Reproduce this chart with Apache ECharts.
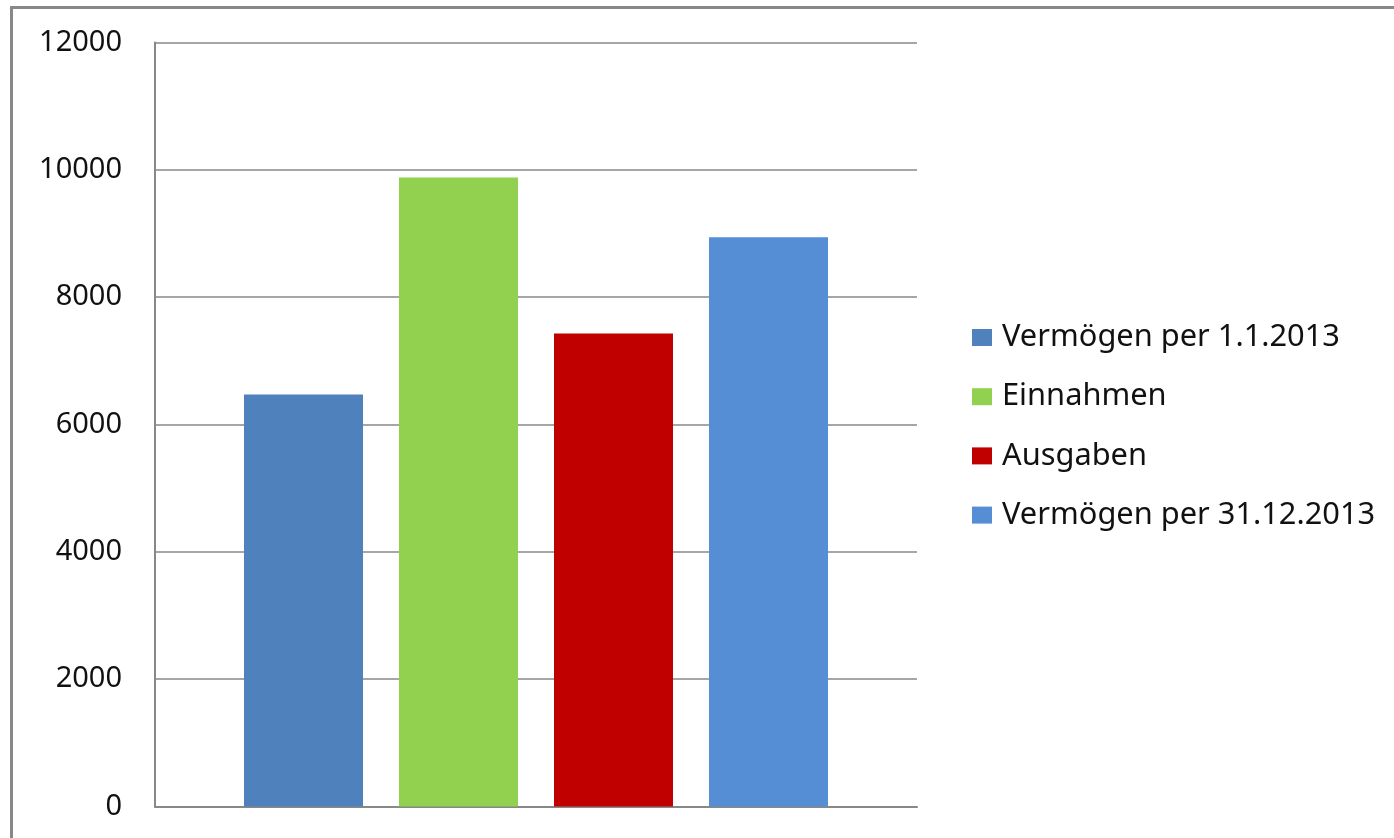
<!DOCTYPE html>
<html>
<head>
<meta charset="utf-8">
<script src="https://cdn.jsdelivr.net/npm/echarts@6/dist/echarts.min.js"></script>
<style>html,body{margin:0;padding:0;background:#fff}#c{width:1394px;height:838px}</style>
</head>
<body>
<div id="c"></div>
<script>
const categories = [''];
const seriesNames = ['Vermögen per 1.1.2013', 'Einnahmen', 'Ausgaben', 'Vermögen per 31.12.2013'];
const seriesValues = [6470, 9880, 7430, 8940];
const seriesColors = ['#4F81BD', '#92D050', '#C00000', '#558ED5'];
const yTicks = [0, 2000, 4000, 6000, 8000, 10000, 12000];

const chart = echarts.init(document.getElementById('c'));
const FONT = 'Noto Sans';
chart.setOption({
  animation: false,
  backgroundColor: '#ffffff',
  textStyle: { fontFamily: FONT },
  graphic: [{
    type: 'rect', left: 9, top: 5, silent: true,
    shape: { x: 0, y: 0, width: 1500, height: 1000 },
    style: { fill: 'none', stroke: '#888888', lineWidth: 3 }
  }],
  grid: { left: 155, right: 477, top: 42.5, bottom: 31.5, containLabel: false },
  legend: {
    orient: 'vertical', left: 967, top: 317,
    itemWidth: 20, itemHeight: 17, itemGap: 28.2,
    icon: 'rect',
    textStyle: { fontFamily: FONT, fontSize: 30.8, color: '#111', lineHeight: 30, padding: [0, 0, 0, 5] },
    data: seriesNames
  },
  xAxis: {
    type: 'category', data: categories,
    axisLine: { lineStyle: { color: '#888888', width: 2 } },
    axisTick: { show: false }, axisLabel: { show: false }
  },
  yAxis: {
    type: 'value', min: yTicks[0], max: yTicks[yTicks.length - 1], interval: 2000,
    axisLine: { show: true, lineStyle: { color: '#888888', width: 2 } },
    axisTick: { show: false },
    splitLine: { lineStyle: { color: '#888888', width: 1.5 } },
    axisLabel: { fontFamily: FONT, fontSize: 29, color: '#111', margin: 33, formatter: v => String(v) }
  },
  series: seriesNames.map((n, i) => ({
    name: n, type: 'bar',
    data: [seriesValues[i]],
    barWidth: 119, barGap: '30.25%',
    itemStyle: { color: seriesColors[i] }
  }))
});
</script>
</body>
</html>
